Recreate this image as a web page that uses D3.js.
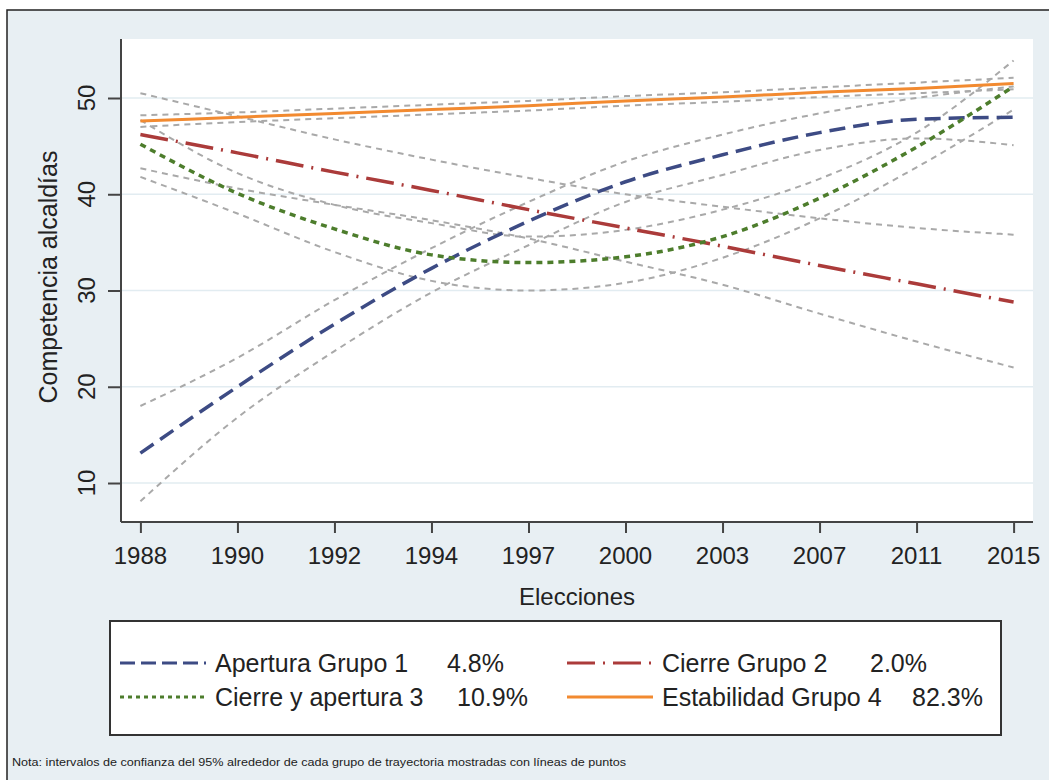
<!DOCTYPE html>
<html>
<head>
<meta charset="utf-8">
<script src="https://cdn.jsdelivr.net/npm/d3@7"></script>
<style>
  body { margin: 0; background: #fff; }
  text { font-family: "Liberation Sans", Arial, sans-serif; fill: #222; }
</style>
</head>
<body>
<svg id="chart" width="1049" height="780"></svg>
<script>
// election years (categorical, evenly spaced on the axis)
var years = ["1988", "1990", "1992", "1994", "1997", "2000", "2003", "2007", "2011", "2015"];

// group trajectories
var grupo1    = [13.1, 20.0, 26.5, 32.3, 37.2, 41.3, 44.1, 46.4, 47.8, 48.0];
var grupo1Hi  = [18.0, 23.0, 29.0, 34.4, 39.2, 43.4, 46.2, 48.4, 50.0, 51.2];
var grupo1Lo  = [ 8.1, 16.8, 23.7, 29.8, 34.7, 39.2, 42.0, 44.6, 45.8, 45.1];

var grupo2    = [46.2, 44.3, 42.3, 40.4, 38.4, 36.5, 34.6, 32.6, 30.7, 28.8];
var grupo2Hi  = [50.5, 48.1, 45.7, 43.6, 41.7, 40.0, 38.7, 37.5, 36.5, 35.8];
var grupo2Lo  = [42.7, 40.6, 38.9, 37.3, 35.4, 33.0, 30.6, 27.6, 24.7, 22.0];

var grupo3    = [45.2, 40.1, 36.4, 33.7, 32.9, 33.5, 35.6, 39.6, 44.9, 51.2];
var grupo3Hi  = [47.7, 42.2, 38.9, 37.0, 35.6, 36.3, 38.4, 41.6, 46.4, 53.9];
var grupo3Lo  = [41.8, 38.0, 34.0, 31.0, 30.0, 30.8, 33.4, 37.5, 42.8, 48.8];

var grupo4    = [47.6, 48.0, 48.4, 48.8, 49.2, 49.7, 50.1, 50.6, 51.0, 51.5];
var grupo4Hi  = [48.2, 48.5, 48.9, 49.3, 49.7, 50.2, 50.6, 51.1, 51.6, 52.1];
var grupo4Lo  = [47.0, 47.5, 47.9, 48.3, 48.7, 49.2, 49.6, 50.1, 50.5, 50.9];

var yTicks = [10, 20, 30, 40, 50];

var legendLabels = ["Apertura Grupo 1", "Cierre Grupo 2", "Cierre y apertura 3", "Estabilidad Grupo 4"];
var legendPcts   = ["4.8%", "2.0%", "10.9%", "82.3%"];

var nota = "Nota: intervalos de confianza del 95% alrededor de cada grupo de trayectoria mostradas con líneas de puntos";

// line styles for the four groups
var styles = [
  { color: "#3d4b84", dash: "16,8" },
  { color: "#ab3b3a", dash: "28,8,2,8" },
  { color: "#4d7d2c", dash: "6,5" },
  { color: "#f28a30", dash: null }
];

var svg = d3.select("#chart");

// outer light panel with a dark frame
svg.append("rect")
  .attr("x", 7).attr("y", 10)
  .attr("width", 1060).attr("height", 790)
  .attr("fill", "#e8eff3")
  .attr("stroke", "#222").attr("stroke-width", 1.5);

// plot region bounds (not "top": that name is taken by window.top)
var pLeft = 121, pRight = 1033, pTop = 39, pBottom = 522;

// white plot region
svg.append("rect")
  .attr("x", pLeft).attr("y", pTop)
  .attr("width", pRight - pLeft).attr("height", pBottom - pTop)
  .attr("fill", "#fff");

var x = d3.scalePoint().domain(years).range([pLeft, pRight]).padding(0.2);
var y = d3.scaleLinear().domain([5.95, 56.13]).range([pBottom, pTop]);

// horizontal grid
svg.append("g").selectAll("line")
  .data(yTicks).enter()
  .append("line")
  .attr("x1", pLeft).attr("x2", pRight)
  .attr("y1", function (d) { return y(d); })
  .attr("y2", function (d) { return y(d); })
  .attr("stroke", "#e2ecf1").attr("stroke-width", 1.5);

var line = d3.line()
  .x(function (d, i) { return x(years[i]); })
  .y(function (d) { return y(d); })
  .curve(d3.curveMonotoneX);

// confidence bands first, grey short dashes
var bands = [grupo1Hi, grupo1Lo, grupo2Hi, grupo2Lo, grupo3Hi, grupo3Lo, grupo4Hi, grupo4Lo];
svg.append("g").selectAll("path")
  .data(bands).enter()
  .append("path")
  .attr("d", line)
  .attr("fill", "none")
  .attr("stroke", "#a9a9a9")
  .attr("stroke-width", 2)
  .attr("stroke-dasharray", "6,5");

// group trajectories
var groups = [grupo1, grupo2, grupo3, grupo4];
svg.append("g").selectAll("path")
  .data(groups).enter()
  .append("path")
  .attr("d", line)
  .attr("fill", "none")
  .attr("stroke", function (d, i) { return styles[i].color; })
  .attr("stroke-width", function (d, i) { return i == 3 ? 3 : 3.5; })
  .attr("stroke-dasharray", function (d, i) { return styles[i].dash; });

// axes
var yAxis = svg.append("g")
  .attr("transform", "translate(" + pLeft + ",0)")
  .call(d3.axisLeft(y).tickValues(yTicks).tickSize(13).tickFormat(""));
var xAxis = svg.append("g")
  .attr("transform", "translate(0," + pBottom + ")")
  .call(d3.axisBottom(x).tickSize(11).tickFormat(""));

[yAxis, xAxis].forEach(function (a) {
  a.select(".domain").attr("stroke", "#444").attr("stroke-width", 2);
  a.selectAll(".tick line").attr("stroke", "#444").attr("stroke-width", 2);
});
yAxis.select(".domain").attr("d", "M0," + pTop + "V" + pBottom);
xAxis.select(".domain").attr("d", "M" + pLeft + ",0H" + pRight);

// y tick labels, rotated like the original
svg.append("g").selectAll("text")
  .data(yTicks).enter()
  .append("text")
  .attr("transform", function (d) { return "translate(95," + y(d) + ") rotate(-90)"; })
  .attr("text-anchor", "middle")
  .attr("font-size", 24)
  .text(function (d) { return d; });

// x tick labels
svg.append("g").selectAll("text")
  .data(years).enter()
  .append("text")
  .attr("x", function (d) { return x(d); })
  .attr("y", 564)
  .attr("text-anchor", "middle")
  .attr("font-size", 24)
  .text(function (d) { return d; });

// axis titles
svg.append("text")
  .attr("x", 577).attr("y", 605)
  .attr("text-anchor", "middle")
  .attr("font-size", 24)
  .text("Elecciones");

svg.append("text")
  .attr("transform", "translate(57,277) rotate(-90)")
  .attr("text-anchor", "middle")
  .attr("font-size", 25)
  .text("Competencia alcaldías");

// legend
svg.append("rect")
  .attr("x", 110).attr("y", 621)
  .attr("width", 891).attr("height", 114)
  .attr("fill", "#fff")
  .attr("stroke", "#333").attr("stroke-width", 2);

var legendPos = [
  { x: 120, row: 663, tx: 215, px: 447 },
  { x: 567, row: 663, tx: 662, px: 870 },
  { x: 120, row: 697, tx: 215, px: 457 },
  { x: 567, row: 697, tx: 662, px: 912 }
];

var legend = svg.append("g").selectAll("g")
  .data(legendLabels).enter()
  .append("g");

legend.append("line")
  .attr("x1", function (d, i) { return legendPos[i].x; })
  .attr("x2", function (d, i) { return legendPos[i].x + 86; })
  .attr("y1", function (d, i) { return legendPos[i].row; })
  .attr("y2", function (d, i) { return legendPos[i].row; })
  .attr("stroke", function (d, i) { return styles[i].color; })
  .attr("stroke-width", 3)
  .attr("stroke-dasharray", function (d, i) { return i == 0 ? "15,6" : i == 2 ? "4,4" : styles[i].dash; });

legend.append("text")
  .attr("x", function (d, i) { return legendPos[i].tx; })
  .attr("y", function (d, i) { return legendPos[i].row + 9; })
  .attr("font-size", 25)
  .text(function (d) { return d; });

legend.append("text")
  .attr("x", function (d, i) { return legendPos[i].px; })
  .attr("y", function (d, i) { return legendPos[i].row + 9; })
  .attr("font-size", 25)
  .text(function (d, i) { return legendPcts[i]; });

// footnote
svg.append("text")
  .attr("x", 12).attr("y", 766)
  .attr("font-size", 10)
  .attr("textLength", 614)
  .attr("lengthAdjust", "spacingAndGlyphs")
  .text(nota);
</script>
</body>
</html>
